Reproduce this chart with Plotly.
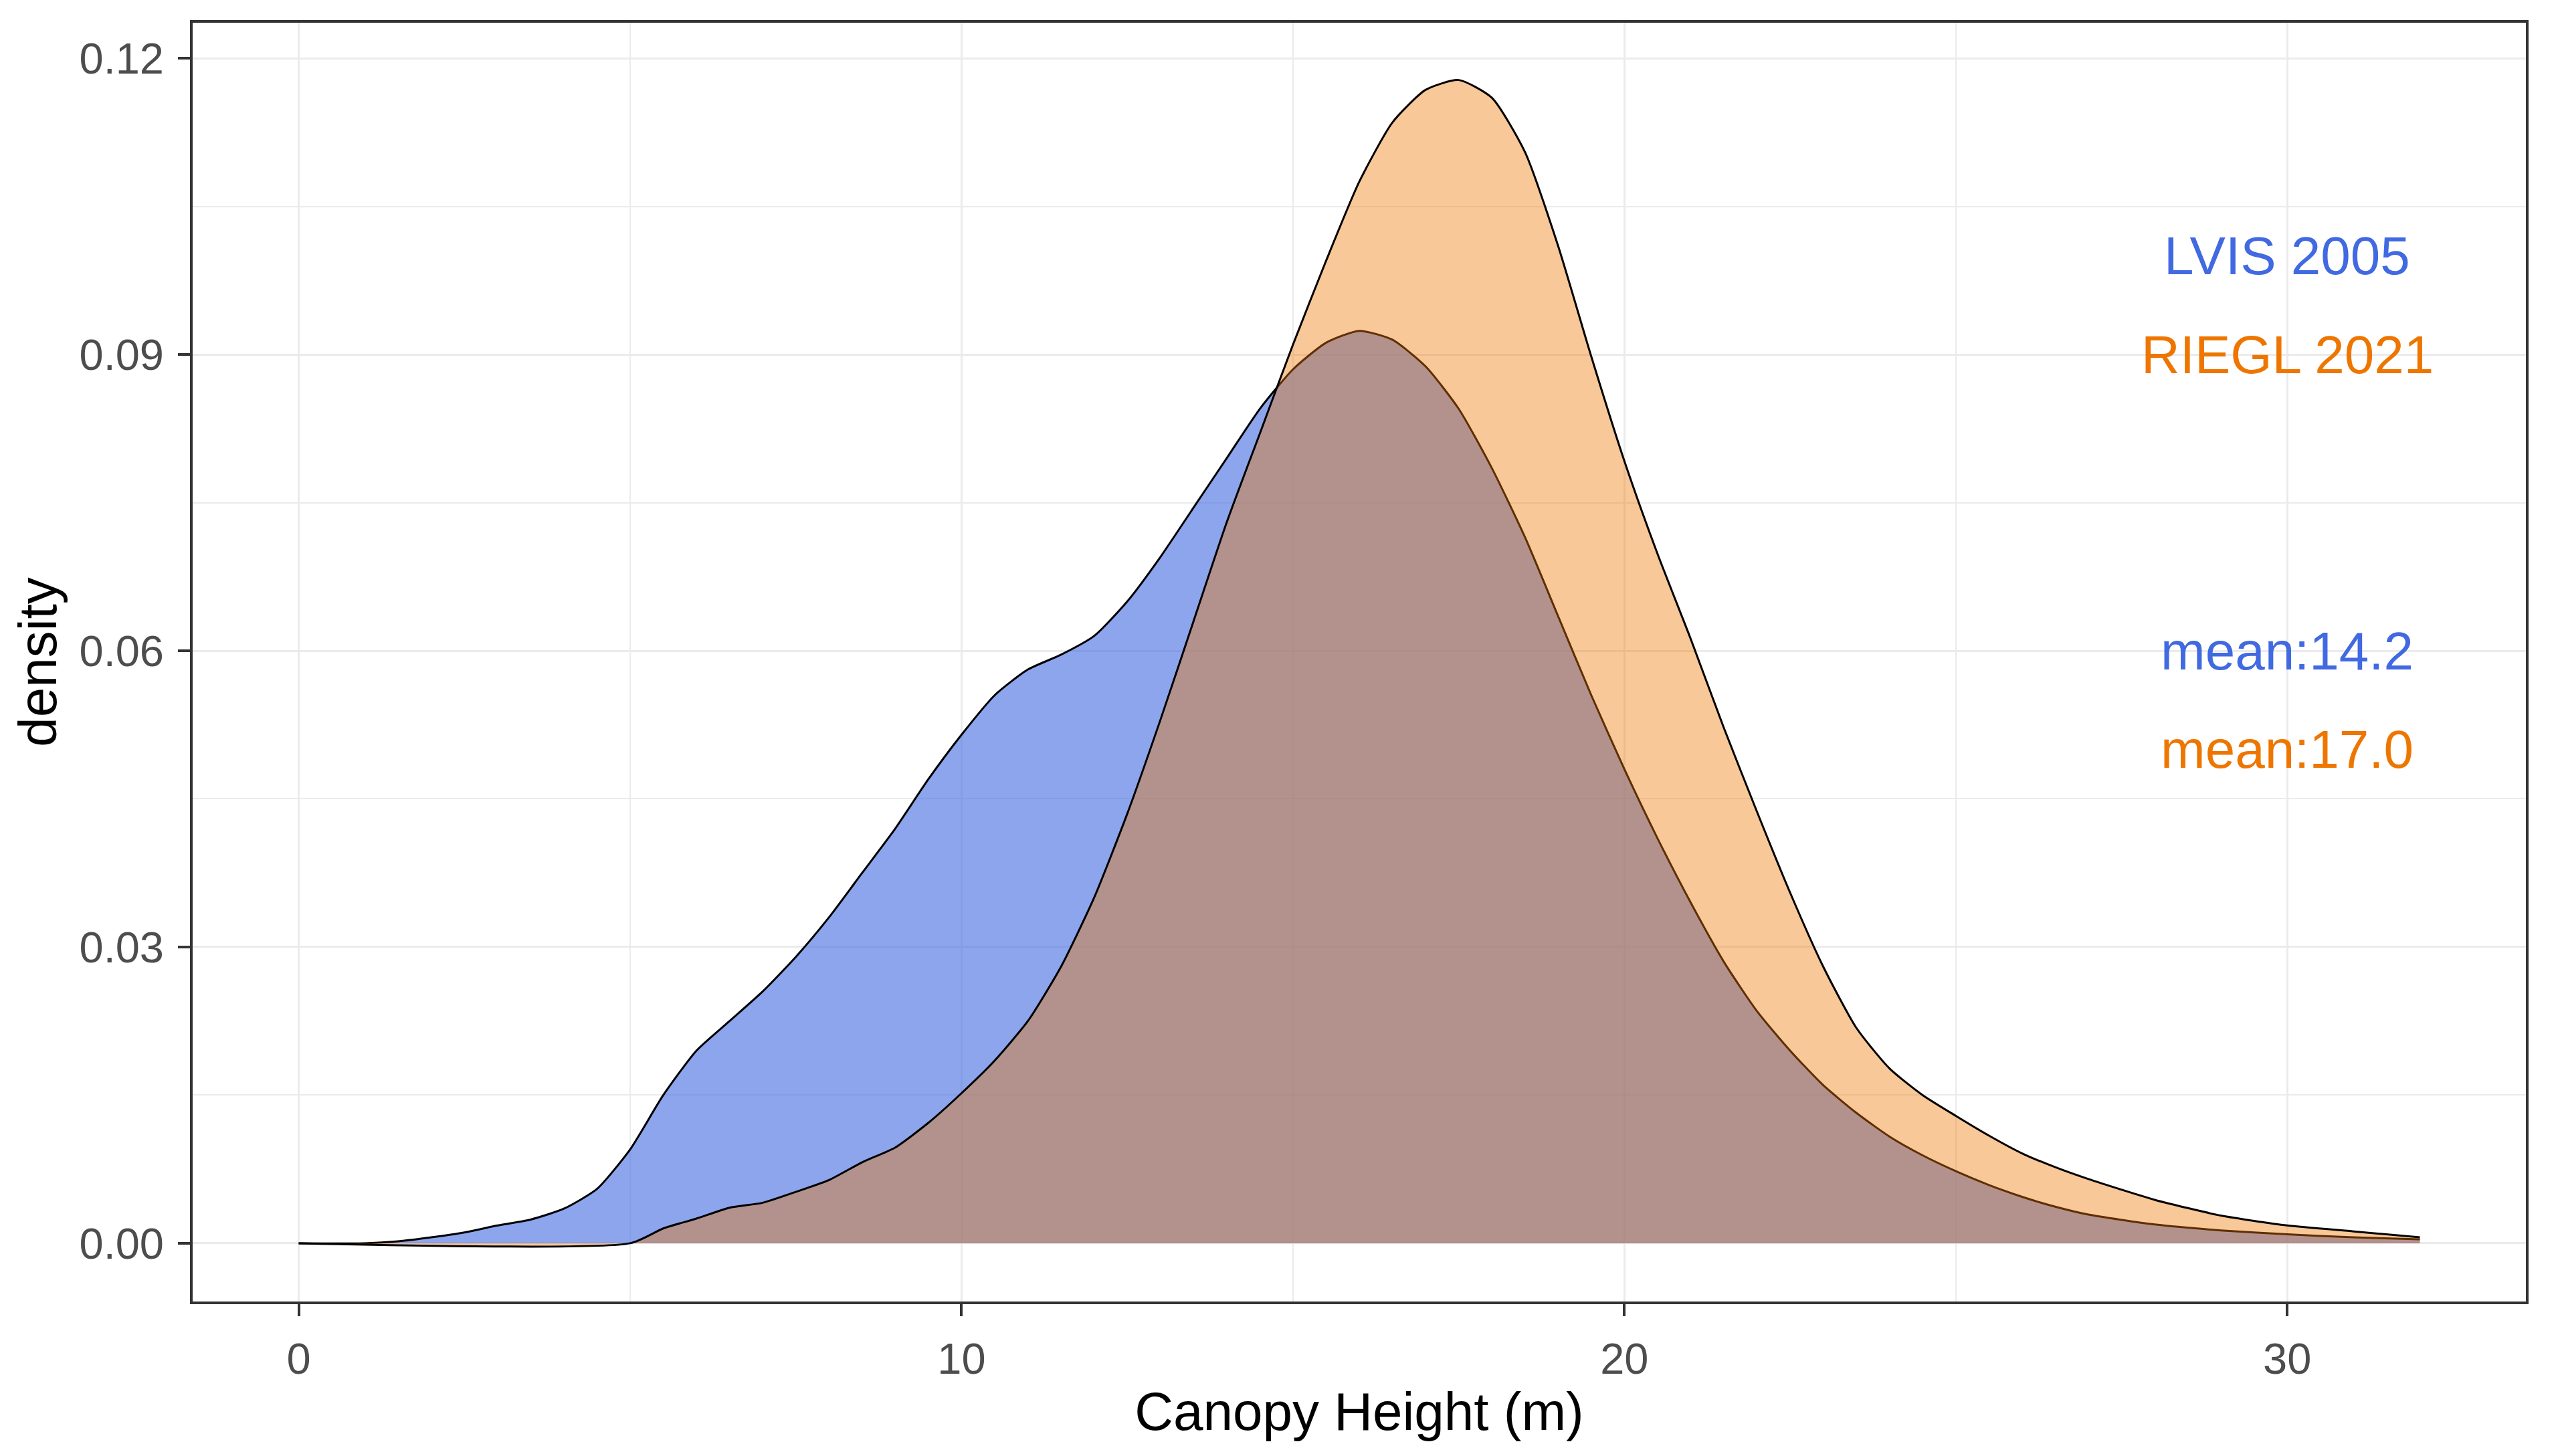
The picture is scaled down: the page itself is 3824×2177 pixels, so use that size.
import plotly.graph_objects as go

# ---- data ----
height_lvis = [0, 1.0, 1.5, 2.0, 2.5, 3.0, 3.5, 4.0, 4.5, 5.0, 5.5, 6.0, 6.5, 7.0, 7.5, 8.0,
               8.5, 9.0, 9.5, 10.0, 10.5, 11.0, 11.5, 12.0, 12.5, 13.0, 13.5, 14.0, 14.5,
               15.0, 15.5, 16.0, 16.5, 17.0, 17.5, 18.0, 18.5, 19.0, 19.5, 20.0, 20.5, 21.0,
               21.5, 22.0, 22.5, 23.0, 23.5, 24.0, 24.5, 25.0, 25.5, 26.0, 26.5, 27.0, 28.0,
               29.0, 30.0, 31.0, 32.0]
density_lvis = [0, 0, 0.0002, 0.0006, 0.0011, 0.0018, 0.0024, 0.0035, 0.0055, 0.0095, 0.015,
                0.0195, 0.0225, 0.0255, 0.029, 0.033, 0.0375, 0.042, 0.047, 0.0515, 0.0555,
                0.0581, 0.0596, 0.0615, 0.065, 0.0695, 0.0745, 0.0795, 0.0845, 0.0885, 0.0912,
                0.0924, 0.0915, 0.0888, 0.0845, 0.0785, 0.0715, 0.0635, 0.0555, 0.048, 0.041,
                0.0345, 0.0285, 0.0235, 0.0195, 0.016, 0.0132, 0.0108, 0.0089, 0.0073, 0.0059,
                0.0047, 0.0037, 0.0029, 0.0019, 0.0013, 0.0009, 0.0006, 0.0004]

height_riegl = [0, 5.0, 5.5, 6.0, 6.5, 7.0, 7.5, 8.0, 8.5, 9.0, 9.5, 10.0, 10.5, 11.0, 11.5,
                12.0, 12.5, 13.0, 13.5, 14.0, 14.5, 15.0, 15.5, 16.0, 16.5, 17.0, 17.5, 18.0,
                18.5, 19.0, 19.5, 20.0, 20.5, 21.0, 21.5, 22.0, 22.5, 23.0, 23.5, 24.0, 24.5,
                25.0, 25.5, 26.0, 26.5, 27.0, 28.0, 29.0, 30.0, 31.0, 32.0]
density_riegl = [0, 0, 0.0015, 0.0025, 0.0036, 0.0041, 0.0052, 0.0064, 0.0082, 0.0097, 0.0122,
                 0.0152, 0.0185, 0.0225, 0.028, 0.035, 0.0435, 0.053, 0.063, 0.073, 0.082,
                 0.091, 0.0995, 0.1075, 0.1135, 0.1168, 0.1178, 0.116, 0.1105, 0.101, 0.0898,
                 0.0792, 0.0698, 0.0612, 0.0522, 0.0437, 0.0355, 0.028, 0.0218, 0.0177, 0.015,
                 0.0129, 0.0109, 0.0091, 0.0077, 0.0065, 0.0044, 0.0028, 0.0018, 0.0012, 0.0006]

series_labels = ["LVIS 2005", "RIEGL 2021"]
mean_labels = ["mean:14.2", "mean:17.0"]
label_y = [0.10, 0.09]
mean_y = [0.06, 0.05]
label_x = 30

x_ticks = [0, 10, 20, 30]
y_ticks = [0.00, 0.03, 0.06, 0.09, 0.12]

line_colors = ["#4169E1", "#EE7600"]
fill_colors = ["rgba(65,105,225,0.6)", "rgba(238,118,0,0.4)"]

FONT = "Liberation Sans, Arial, sans-serif"

fig = go.Figure()
for xs, ys, name, fc in [(height_lvis, density_lvis, series_labels[0], fill_colors[0]),
                         (height_riegl, density_riegl, series_labels[1], fill_colors[1])]:
    fig.add_trace(go.Scatter(
        x=xs, y=ys, name=name, mode="lines",
        line=dict(color="black", width=3, shape="spline", smoothing=0.6),
        fill="tozeroy", fillcolor=fc, showlegend=False, hoverinfo="skip"))

for i in range(2):
    fig.add_annotation(x=label_x, y=label_y[i], text=series_labels[i], showarrow=False,
                       font=dict(family=FONT, size=80, color=line_colors[i]),
                       xanchor="center", yanchor="middle")
    fig.add_annotation(x=label_x, y=mean_y[i], text=mean_labels[i], showarrow=False,
                       font=dict(family=FONT, size=80, color=line_colors[i]),
                       xanchor="center", yanchor="middle")

axis_common = dict(
    showline=True, mirror=True, linecolor="#333333", linewidth=4,
    ticks="outside", ticklen=18, tickwidth=4, tickcolor="#333333",
    showgrid=True, gridcolor="#EBEBEB", gridwidth=3, zeroline=False,
    tickfont=dict(family=FONT, size=65, color="#4D4D4D"),
)

fig.update_xaxes(**axis_common, range=[-1.6, 33.6], tickvals=x_ticks,
                 ticktext=[str(v) for v in x_ticks],
                 minor=dict(showgrid=True, dtick=5, tick0=0, gridcolor="#EBEBEB", gridwidth=1.5),
                 title=dict(text="Canopy Height (m)", font=dict(family=FONT, size=80, color="black"),
                            standoff=16),
                 ticklabelstandoff=8)
fig.update_yaxes(**axis_common, range=[-0.0059, 0.1236], tickvals=y_ticks,
                 ticktext=[f"{v:.2f}" for v in y_ticks],
                 minor=dict(showgrid=True, dtick=0.015, tick0=0, gridcolor="#EBEBEB", gridwidth=1.5),
                 title=dict(text="density", font=dict(family=FONT, size=80, color="black"),
                            standoff=8),
                 ticklabelstandoff=8)

fig.update_layout(width=3824, height=2177, paper_bgcolor="white", plot_bgcolor="white",
                  margin=dict(l=288, r=48, t=34, b=231, autoexpand=False))

fig.write_html("out.html")
